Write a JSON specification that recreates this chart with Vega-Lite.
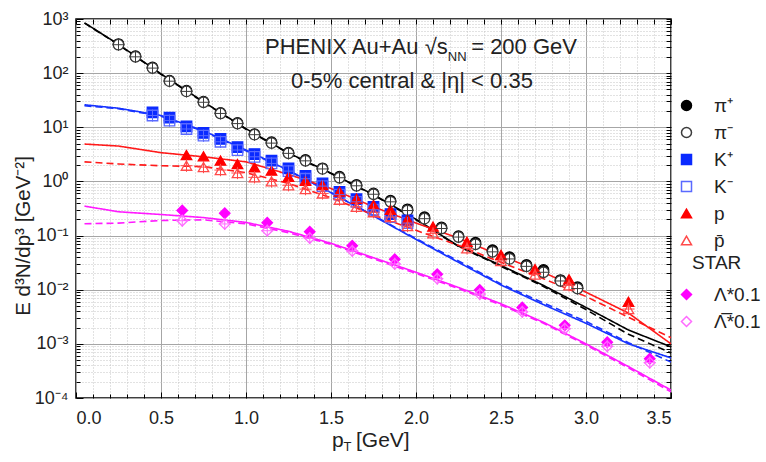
{
"$schema": "https://vega.github.io/schema/vega-lite/v6.json",
"width": 595, "height": 379,
"autosize": "none",
"padding": {"left": 76, "top": 19, "right": 95, "bottom": 64},
"background": "white",
"config": {
  "view": {"stroke": "#000", "strokeWidth": 1.5},
  "font": "Liberation Sans",
  "axis": {"labelFont": "Liberation Sans", "titleFont": "Liberation Sans", "labelColor": "#222", "titleColor": "#222", "tickColor": "#000", "domain": false, "titleFontWeight": "normal"}
},
"datasets": {
  "pts": [
    {"s":"π⁺","pt":0.25,"v":345},{"s":"π⁺","pt":0.35,"v":205},{"s":"π⁺","pt":0.45,"v":128},{"s":"π⁺","pt":0.55,"v":73},{"s":"π⁺","pt":0.65,"v":47.4},{"s":"π⁺","pt":0.75,"v":29.7},{"s":"π⁺","pt":0.85,"v":18.4},{"s":"π⁺","pt":0.95,"v":12},{"s":"π⁺","pt":1.05,"v":7.5},{"s":"π⁺","pt":1.15,"v":5.3},{"s":"π⁺","pt":1.25,"v":3.4},{"s":"π⁺","pt":1.35,"v":2.49},{"s":"π⁺","pt":1.45,"v":1.75},{"s":"π⁺","pt":1.55,"v":1.22},{"s":"π⁺","pt":1.65,"v":0.86},{"s":"π⁺","pt":1.75,"v":0.6},{"s":"π⁺","pt":1.85,"v":0.44},{"s":"π⁺","pt":1.95,"v":0.306},{"s":"π⁺","pt":2.05,"v":0.218},{"s":"π⁺","pt":2.15,"v":0.142},{"s":"π⁺","pt":2.25,"v":0.098},{"s":"π⁺","pt":2.35,"v":0.074},{"s":"π⁺","pt":2.45,"v":0.054},{"s":"π⁺","pt":2.55,"v":0.04},{"s":"π⁺","pt":2.65,"v":0.0286},{"s":"π⁺","pt":2.75,"v":0.0232},{"s":"π⁺","pt":2.85,"v":0.0151},{"s":"π⁺","pt":2.95,"v":0.0111},
    {"s":"π⁻","pt":0.25,"v":335},{"s":"π⁻","pt":0.35,"v":200},{"s":"π⁻","pt":0.45,"v":124},{"s":"π⁻","pt":0.55,"v":71},{"s":"π⁻","pt":0.65,"v":46},{"s":"π⁻","pt":0.75,"v":29},{"s":"π⁻","pt":0.85,"v":18},{"s":"π⁻","pt":0.95,"v":11.7},{"s":"π⁻","pt":1.05,"v":7.3},{"s":"π⁻","pt":1.15,"v":5.1},{"s":"π⁻","pt":1.25,"v":3.3},{"s":"π⁻","pt":1.35,"v":2.4},{"s":"π⁻","pt":1.45,"v":1.7},{"s":"π⁻","pt":1.55,"v":1.17},{"s":"π⁻","pt":1.65,"v":0.83},{"s":"π⁻","pt":1.75,"v":0.58},{"s":"π⁻","pt":1.85,"v":0.42},{"s":"π⁻","pt":1.95,"v":0.29},{"s":"π⁻","pt":2.05,"v":0.205},{"s":"π⁻","pt":2.15,"v":0.135},{"s":"π⁻","pt":2.25,"v":0.094},{"s":"π⁻","pt":2.35,"v":0.069},{"s":"π⁻","pt":2.45,"v":0.05},{"s":"π⁻","pt":2.55,"v":0.037},{"s":"π⁻","pt":2.65,"v":0.027},{"s":"π⁻","pt":2.75,"v":0.021},{"s":"π⁻","pt":2.85,"v":0.0145},{"s":"π⁻","pt":2.95,"v":0.0105},
    {"s":"K⁺","pt":0.45,"v":18.9},{"s":"K⁺","pt":0.55,"v":15.1},{"s":"K⁺","pt":0.65,"v":10.4},{"s":"K⁺","pt":0.75,"v":7.85},{"s":"K⁺","pt":0.85,"v":6.1},{"s":"K⁺","pt":0.95,"v":4.3},{"s":"K⁺","pt":1.05,"v":3.2},{"s":"K⁺","pt":1.15,"v":2.42},{"s":"K⁺","pt":1.25,"v":1.75},{"s":"K⁺","pt":1.35,"v":1.26},{"s":"K⁺","pt":1.45,"v":0.92},{"s":"K⁺","pt":1.55,"v":0.64},{"s":"K⁺","pt":1.65,"v":0.47},{"s":"K⁺","pt":1.75,"v":0.34},{"s":"K⁺","pt":1.85,"v":0.25},{"s":"K⁺","pt":1.95,"v":0.19},
    {"s":"K⁻","pt":0.45,"v":16.5},{"s":"K⁻","pt":0.55,"v":13.3},{"s":"K⁻","pt":0.65,"v":9.3},{"s":"K⁻","pt":0.75,"v":7.0},{"s":"K⁻","pt":0.85,"v":5.4},{"s":"K⁻","pt":0.95,"v":3.8},{"s":"K⁻","pt":1.05,"v":2.85},{"s":"K⁻","pt":1.15,"v":2.15},{"s":"K⁻","pt":1.25,"v":1.55},{"s":"K⁻","pt":1.35,"v":1.12},{"s":"K⁻","pt":1.45,"v":0.82},{"s":"K⁻","pt":1.55,"v":0.57},{"s":"K⁻","pt":1.65,"v":0.42},{"s":"K⁻","pt":1.75,"v":0.3},{"s":"K⁻","pt":1.85,"v":0.22},{"s":"K⁻","pt":1.95,"v":0.17},
    {"s":"p","pt":0.65,"v":3.08},{"s":"p","pt":0.75,"v":2.91},{"s":"p","pt":0.85,"v":2.42},{"s":"p","pt":0.95,"v":2.1},{"s":"p","pt":1.05,"v":1.82},{"s":"p","pt":1.15,"v":1.58},{"s":"p","pt":1.25,"v":1.22},{"s":"p","pt":1.35,"v":1.03},{"s":"p","pt":1.45,"v":0.86},{"s":"p","pt":1.55,"v":0.65},{"s":"p","pt":1.65,"v":0.48},{"s":"p","pt":1.75,"v":0.37},{"s":"p","pt":1.85,"v":0.3},{"s":"p","pt":1.95,"v":0.2},{"s":"p","pt":2.1,"v":0.146},{"s":"p","pt":2.3,"v":0.077},{"s":"p","pt":2.5,"v":0.044},{"s":"p","pt":2.7,"v":0.024},{"s":"p","pt":2.9,"v":0.0156},{"s":"p","pt":3.25,"v":0.006},
    {"s":"p̄","pt":0.65,"v":1.95},{"s":"p̄","pt":0.75,"v":1.84},{"s":"p̄","pt":0.85,"v":1.62},{"s":"p̄","pt":0.95,"v":1.43},{"s":"p̄","pt":1.05,"v":1.19},{"s":"p̄","pt":1.15,"v":1.0},{"s":"p̄","pt":1.25,"v":0.85},{"s":"p̄","pt":1.35,"v":0.72},{"s":"p̄","pt":1.45,"v":0.6},{"s":"p̄","pt":1.55,"v":0.46},{"s":"p̄","pt":1.65,"v":0.34},{"s":"p̄","pt":1.75,"v":0.27},{"s":"p̄","pt":1.85,"v":0.22},{"s":"p̄","pt":1.95,"v":0.15},{"s":"p̄","pt":2.1,"v":0.11},{"s":"p̄","pt":2.3,"v":0.058},{"s":"p̄","pt":2.5,"v":0.034},{"s":"p̄","pt":2.7,"v":0.019},{"s":"p̄","pt":2.9,"v":0.012},{"s":"p̄","pt":3.25,"v":0.0044},
    {"s":"Λ*0.1","pt":0.625,"v":0.29},{"s":"Λ*0.1","pt":0.875,"v":0.258},{"s":"Λ*0.1","pt":1.125,"v":0.173},{"s":"Λ*0.1","pt":1.375,"v":0.118},{"s":"Λ*0.1","pt":1.625,"v":0.065},{"s":"Λ*0.1","pt":1.875,"v":0.0365},{"s":"Λ*0.1","pt":2.125,"v":0.0193},{"s":"Λ*0.1","pt":2.375,"v":0.0099},{"s":"Λ*0.1","pt":2.625,"v":0.0047},{"s":"Λ*0.1","pt":2.875,"v":0.0022},{"s":"Λ*0.1","pt":3.125,"v":0.00107},{"s":"Λ*0.1","pt":3.375,"v":0.00053},
    {"s":"Λ̅*0.1","pt":0.625,"v":0.188},{"s":"Λ̅*0.1","pt":0.875,"v":0.164},{"s":"Λ̅*0.1","pt":1.125,"v":0.123},{"s":"Λ̅*0.1","pt":1.375,"v":0.09},{"s":"Λ̅*0.1","pt":1.625,"v":0.052},{"s":"Λ̅*0.1","pt":1.875,"v":0.03},{"s":"Λ̅*0.1","pt":2.125,"v":0.016},{"s":"Λ̅*0.1","pt":2.375,"v":0.0083},{"s":"Λ̅*0.1","pt":2.625,"v":0.0039},{"s":"Λ̅*0.1","pt":2.875,"v":0.0019},{"s":"Λ̅*0.1","pt":3.125,"v":0.0009},{"s":"Λ̅*0.1","pt":3.375,"v":0.00045}
  ],
  "curves": [
    {"sp":"pi","k":"solid","pt":0.05,"v":850},{"sp":"pi","k":"solid","pt":0.25,"v":340},{"sp":"pi","k":"solid","pt":0.5,"v":97},{"sp":"pi","k":"solid","pt":0.75,"v":29.5},{"sp":"pi","k":"solid","pt":1.0,"v":9.4},{"sp":"pi","k":"solid","pt":1.25,"v":3.35},{"sp":"pi","k":"solid","pt":1.5,"v":1.42},{"sp":"pi","k":"solid","pt":1.75,"v":0.57},{"sp":"pi","k":"solid","pt":2.0,"v":0.2},{"sp":"pi","k":"solid","pt":2.25,"v":0.064},{"sp":"pi","k":"solid","pt":2.5,"v":0.028},{"sp":"pi","k":"solid","pt":2.75,"v":0.012},{"sp":"pi","k":"solid","pt":3.0,"v":0.0047},{"sp":"pi","k":"solid","pt":3.25,"v":0.0018},{"sp":"pi","k":"solid","pt":3.5,"v":0.00088},
    {"sp":"pi","k":"dashed","pt":0.05,"v":840},{"sp":"pi","k":"dashed","pt":0.25,"v":335},{"sp":"pi","k":"dashed","pt":0.5,"v":95},{"sp":"pi","k":"dashed","pt":0.75,"v":29},{"sp":"pi","k":"dashed","pt":1.0,"v":9.2},{"sp":"pi","k":"dashed","pt":1.25,"v":3.3},{"sp":"pi","k":"dashed","pt":1.5,"v":1.4},{"sp":"pi","k":"dashed","pt":1.75,"v":0.56},{"sp":"pi","k":"dashed","pt":2.0,"v":0.196},{"sp":"pi","k":"dashed","pt":2.25,"v":0.063},{"sp":"pi","k":"dashed","pt":2.5,"v":0.027},{"sp":"pi","k":"dashed","pt":2.75,"v":0.0115},{"sp":"pi","k":"dashed","pt":3.0,"v":0.0043},{"sp":"pi","k":"dashed","pt":3.25,"v":0.0015},{"sp":"pi","k":"dashed","pt":3.5,"v":0.00068},
    {"sp":"K","k":"solid","pt":0.05,"v":26},{"sp":"K","k":"solid","pt":0.25,"v":22.5},{"sp":"K","k":"solid","pt":0.5,"v":16.5},{"sp":"K","k":"solid","pt":0.75,"v":8.6},{"sp":"K","k":"solid","pt":1.0,"v":3.8},{"sp":"K","k":"solid","pt":1.25,"v":1.6},{"sp":"K","k":"solid","pt":1.5,"v":0.62},{"sp":"K","k":"solid","pt":1.75,"v":0.23},{"sp":"K","k":"solid","pt":2.0,"v":0.085},{"sp":"K","k":"solid","pt":2.25,"v":0.032},{"sp":"K","k":"solid","pt":2.5,"v":0.0122},{"sp":"K","k":"solid","pt":2.75,"v":0.0053},{"sp":"K","k":"solid","pt":3.0,"v":0.0024},{"sp":"K","k":"solid","pt":3.25,"v":0.001},{"sp":"K","k":"solid","pt":3.5,"v":0.00055},
    {"sp":"K","k":"dashed","pt":0.05,"v":25},{"sp":"K","k":"dashed","pt":0.25,"v":22},{"sp":"K","k":"dashed","pt":0.5,"v":16},{"sp":"K","k":"dashed","pt":0.75,"v":8.4},{"sp":"K","k":"dashed","pt":1.0,"v":3.7},{"sp":"K","k":"dashed","pt":1.25,"v":1.58},{"sp":"K","k":"dashed","pt":1.5,"v":0.62},{"sp":"K","k":"dashed","pt":1.75,"v":0.235},{"sp":"K","k":"dashed","pt":2.0,"v":0.088},{"sp":"K","k":"dashed","pt":2.25,"v":0.034},{"sp":"K","k":"dashed","pt":2.5,"v":0.0128},{"sp":"K","k":"dashed","pt":2.75,"v":0.0057},{"sp":"K","k":"dashed","pt":3.0,"v":0.0026},{"sp":"K","k":"dashed","pt":3.25,"v":0.00105},{"sp":"K","k":"dashed","pt":3.5,"v":0.00046},
    {"sp":"p","k":"solid","pt":0.05,"v":4.9},{"sp":"p","k":"solid","pt":0.25,"v":4.5},{"sp":"p","k":"solid","pt":0.5,"v":3.4},{"sp":"p","k":"solid","pt":0.75,"v":2.85},{"sp":"p","k":"solid","pt":1.0,"v":2.3},{"sp":"p","k":"solid","pt":1.25,"v":1.35},{"sp":"p","k":"solid","pt":1.5,"v":0.74},{"sp":"p","k":"solid","pt":1.75,"v":0.34},{"sp":"p","k":"solid","pt":2.0,"v":0.17},{"sp":"p","k":"solid","pt":2.25,"v":0.09},{"sp":"p","k":"solid","pt":2.5,"v":0.042},{"sp":"p","k":"solid","pt":2.75,"v":0.021},{"sp":"p","k":"solid","pt":3.0,"v":0.009},{"sp":"p","k":"solid","pt":3.25,"v":0.0037},{"sp":"p","k":"solid","pt":3.5,"v":0.001},
    {"sp":"p","k":"dashed","pt":0.05,"v":2.3},{"sp":"p","k":"dashed","pt":0.25,"v":2.1},{"sp":"p","k":"dashed","pt":0.5,"v":1.95},{"sp":"p","k":"dashed","pt":0.75,"v":1.88},{"sp":"p","k":"dashed","pt":1.0,"v":1.45},{"sp":"p","k":"dashed","pt":1.25,"v":0.92},{"sp":"p","k":"dashed","pt":1.5,"v":0.5},{"sp":"p","k":"dashed","pt":1.75,"v":0.24},{"sp":"p","k":"dashed","pt":2.0,"v":0.125},{"sp":"p","k":"dashed","pt":2.25,"v":0.066},{"sp":"p","k":"dashed","pt":2.5,"v":0.032},{"sp":"p","k":"dashed","pt":2.75,"v":0.016},{"sp":"p","k":"dashed","pt":3.0,"v":0.0075},{"sp":"p","k":"dashed","pt":3.25,"v":0.0031},{"sp":"p","k":"dashed","pt":3.5,"v":0.0013},
    {"sp":"L","k":"solid","pt":0.05,"v":0.35},{"sp":"L","k":"solid","pt":0.25,"v":0.275},{"sp":"L","k":"solid","pt":0.5,"v":0.245},{"sp":"L","k":"solid","pt":0.75,"v":0.215},{"sp":"L","k":"solid","pt":1.0,"v":0.175},{"sp":"L","k":"solid","pt":1.25,"v":0.12},{"sp":"L","k":"solid","pt":1.5,"v":0.072},{"sp":"L","k":"solid","pt":1.75,"v":0.039},{"sp":"L","k":"solid","pt":2.0,"v":0.021},{"sp":"L","k":"solid","pt":2.25,"v":0.011},{"sp":"L","k":"solid","pt":2.5,"v":0.0055},{"sp":"L","k":"solid","pt":2.75,"v":0.0025},{"sp":"L","k":"solid","pt":3.0,"v":0.001},{"sp":"L","k":"solid","pt":3.25,"v":0.00038},{"sp":"L","k":"solid","pt":3.5,"v":0.00014},
    {"sp":"L","k":"dashed","pt":0.05,"v":0.165},{"sp":"L","k":"dashed","pt":0.25,"v":0.17},{"sp":"L","k":"dashed","pt":0.5,"v":0.19},{"sp":"L","k":"dashed","pt":0.75,"v":0.195},{"sp":"L","k":"dashed","pt":1.0,"v":0.165},{"sp":"L","k":"dashed","pt":1.25,"v":0.113},{"sp":"L","k":"dashed","pt":1.5,"v":0.069},{"sp":"L","k":"dashed","pt":1.75,"v":0.037},{"sp":"L","k":"dashed","pt":2.0,"v":0.02},{"sp":"L","k":"dashed","pt":2.25,"v":0.0105},{"sp":"L","k":"dashed","pt":2.5,"v":0.0052},{"sp":"L","k":"dashed","pt":2.75,"v":0.0024},{"sp":"L","k":"dashed","pt":3.0,"v":0.00095},{"sp":"L","k":"dashed","pt":3.25,"v":0.00036},{"sp":"L","k":"dashed","pt":3.5,"v":0.00013}
  ]
},
"layer": [
  {
    "data": {"name": "curves"},
    "mark": {"type": "line", "strokeWidth": 1.6, "clip": true},
    "encoding": {
      "x": {"field": "pt", "type": "quantitative", "scale": {"domain": [0, 3.5], "nice": false, "zero": false},
        "axis": {"orient": "bottom", "values": [0, 0.5, 1, 1.5, 2, 2.5, 3, 3.5], "format": ".1f", "labelFontSize": 18, "labelPadding": 17, "tickSize": -6, "grid": true, "gridColor": "#a6a6a6", "gridWidth": 1, "title": null}},
      "y": {"field": "v", "type": "quantitative", "scale": {"type": "log", "domain": [0.0001, 1000], "nice": false},
        "axis": {"orient": "left", "values": [0.0001, 0.001, 0.01, 0.1, 1, 10, 100, 1000], "labelExpr": "'10' + ['⁻⁴','⁻³','⁻²','⁻¹','⁰','¹','²','³'][round(log(datum.value)/LN10)+4]", "labelFontSize": 18, "labelPadding": 15, "tickSize": -7, "grid": true, "gridColor": "#a6a6a6", "gridWidth": 1, "title": null}},
      "color": {"field": "sp", "type": "nominal", "scale": {"domain": ["pi", "K", "p", "L"], "range": ["#000000", "#1733ff", "#ff1a1a", "#ff1aff"]}, "legend": null},
      "strokeDash": {"field": "k", "type": "nominal", "scale": {"domain": ["solid", "dashed"], "range": [[1, 0], [7, 4]]}, "legend": null}
    }
  },
  {
    "data": {"name": "pts"},
    "mark": {"type": "point", "size": 110, "strokeWidth": 1.3, "opacity": 1},
    "encoding": {
      "x": {"field": "pt", "type": "quantitative",
        "axis": {"orient": "bottom", "values": [0.1,0.2,0.3,0.4,0.6,0.7,0.8,0.9,1.1,1.2,1.3,1.4,1.6,1.7,1.8,1.9,2.1,2.2,2.3,2.4,2.6,2.7,2.8,2.9,3.1,3.2,3.3,3.4], "labels": false, "tickSize": -4, "grid": true, "gridColor": "#c4c4c4", "gridDash": [1, 2], "gridWidth": 1, "title": null}},
      "y": {"field": "v", "type": "quantitative",
        "axis": {"orient": "left", "values": [0.0002,0.0003,0.0004,0.0005,0.0006,0.0007,0.0008,0.0009,0.002,0.003,0.004,0.005,0.006,0.007,0.008,0.009,0.02,0.03,0.04,0.05,0.06,0.07,0.08,0.09,0.2,0.3,0.4,0.5,0.6,0.7,0.8,0.9,2,3,4,5,6,7,8,9,20,30,40,50,60,70,80,90,200,300,400,500,600,700,800,900], "labels": false, "tickSize": -4, "grid": true, "gridColor": "#c4c4c4", "gridDash": [1, 2], "gridWidth": 1, "title": null}},
      "shape": {"field": "s", "type": "nominal",
        "scale": {"domain": ["π⁺","π⁻","K⁺","K⁻","p","p̄","STAR","Λ*0.1","Λ̅*0.1"], "range": ["circle","circle","square","square","triangle-up","triangle-up","M0,0","diamond","diamond"]},
        "legend": {"orient": "none", "legendX": 601, "legendY": 77, "title": null, "labelFontSize": 19, "labelFont": "Liberation Sans", "labelColor": "#222", "symbolSize": 100, "symbolStrokeWidth": 1.5, "rowPadding": 7, "labelOffset": 18, "labelExpr": "datum.label == 'STAR' ? '' : datum.label"}},
      "stroke": {"field": "s", "type": "nominal",
        "scale": {"domain": ["π⁺","π⁻","K⁺","K⁻","p","p̄","STAR","Λ*0.1","Λ̅*0.1"], "range": ["#000000","#3c3c3c","#0a2aff","#5a6aff","#ff0000","#ff4a4a","transparent","#ff00ff","#ff6aff"]},
        "legend": {"orient": "none", "legendX": 601, "legendY": 77, "title": null, "labelFontSize": 19, "labelFont": "Liberation Sans", "labelColor": "#222", "symbolSize": 100, "symbolStrokeWidth": 1.5, "rowPadding": 7, "labelOffset": 18, "labelExpr": "datum.label == 'STAR' ? '' : datum.label"}},
      "fill": {"field": "s", "type": "nominal",
        "scale": {"domain": ["π⁺","π⁻","K⁺","K⁻","p","p̄","STAR","Λ*0.1","Λ̅*0.1"], "range": ["#000000","#ffffff","#0a2aff","transparent","#ff0000","transparent","transparent","#ff00ff","transparent"]},
        "legend": {"orient": "none", "legendX": 601, "legendY": 77, "title": null, "labelFontSize": 19, "labelFont": "Liberation Sans", "labelColor": "#222", "symbolSize": 100, "symbolStrokeWidth": 1.5, "rowPadding": 7, "labelOffset": 18, "labelExpr": "datum.label == 'STAR' ? '' : datum.label"}}
    }
  },
  {
    "data": {"name": "pts"},
    "transform": [{"filter": "indexof(['π⁻','K⁻','p̄','Λ̅*0.1'], datum.s) >= 0"}],
    "mark": {"type": "point", "shape": "M-1,0L1,0M0,-1L0,1", "size": 150, "strokeWidth": 1, "opacity": 1, "filled": false},
    "encoding": {
      "x": {"field": "pt", "type": "quantitative",
        "axis": {"orient": "top", "values": [0,0.1,0.2,0.3,0.4,0.5,0.6,0.7,0.8,0.9,1,1.1,1.2,1.3,1.4,1.5,1.6,1.7,1.8,1.9,2,2.1,2.2,2.3,2.4,2.5,2.6,2.7,2.8,2.9,3,3.1,3.2,3.3,3.4,3.5], "labels": false, "tickSize": -5, "grid": false, "title": null}},
      "y": {"field": "v", "type": "quantitative",
        "axis": {"orient": "right", "values": [0.0001,0.0002,0.0003,0.0004,0.0005,0.0006,0.0007,0.0008,0.0009,0.001,0.002,0.003,0.004,0.005,0.006,0.007,0.008,0.009,0.01,0.02,0.03,0.04,0.05,0.06,0.07,0.08,0.09,0.1,0.2,0.3,0.4,0.5,0.6,0.7,0.8,0.9,1,2,3,4,5,6,7,8,9,10,20,30,40,50,60,70,80,90,100,200,300,400,500,600,700,800,900,1000], "labels": false, "tickSize": -5, "grid": false, "title": null}},
      "stroke": {"field": "s", "type": "nominal", "legend": null}
    }
  },
  {
    "data": {"values": [{}]},
    "mark": {"type": "text", "align": "left", "baseline": "alphabetic", "fontSize": 22, "font": "Liberation Sans", "color": "#222"},
    "encoding": {"x": {"datum": 1.112, "type": "quantitative", "axis": null}, "y": {"datum": 226, "type": "quantitative", "axis": null}, "text": {"value": "PHENIX Au+Au √s"}}
  },
  {
    "data": {"values": [{}]},
    "mark": {"type": "text", "align": "left", "baseline": "alphabetic", "fontSize": 13, "font": "Liberation Sans", "color": "#222"},
    "encoding": {"x": {"datum": 2.187, "type": "quantitative", "axis": null}, "y": {"datum": 167.7, "type": "quantitative", "axis": null}, "text": {"value": "NN"}}
  },
  {
    "data": {"values": [{}]},
    "mark": {"type": "text", "align": "right", "baseline": "alphabetic", "fontSize": 22, "font": "Liberation Sans", "color": "#222"},
    "encoding": {"x": {"datum": 2.947, "type": "quantitative", "axis": null}, "y": {"datum": 226, "type": "quantitative", "axis": null}, "text": {"value": "= 200 GeV"}}
  },
  {
    "data": {"values": [{}]},
    "mark": {"type": "text", "align": "center", "baseline": "alphabetic", "fontSize": 22, "font": "Liberation Sans", "color": "#222"},
    "encoding": {"x": {"datum": 1.976, "type": "quantitative", "axis": null}, "y": {"datum": 53.2, "type": "quantitative", "axis": null}, "text": {"value": "0-5% central & |η| < 0.35"}}
  },
  {
    "data": {"values": [{}]},
    "mark": {"type": "text", "align": "left", "baseline": "middle", "fontSize": 19, "font": "Liberation Sans", "color": "#222"},
    "encoding": {"x": {"datum": 3.624, "type": "quantitative", "axis": null}, "y": {"datum": 0.0312, "type": "quantitative", "axis": null}, "text": {"value": "STAR"}}
  },
  {
    "data": {"values": [{}]},
    "mark": {"type": "text", "align": "center", "baseline": "middle", "angle": -90, "fontSize": 20.5, "font": "Liberation Sans", "color": "#222"},
    "encoding": {"x": {"datum": -0.306, "type": "quantitative", "axis": null}, "y": {"datum": 0.0984, "type": "quantitative", "axis": null}, "text": {"value": "E d³N/dp³ [GeV⁻²]"}}
  },
  {
    "data": {"values": [{}]},
    "mark": {"type": "text", "align": "left", "baseline": "alphabetic", "fontSize": 21, "font": "Liberation Sans", "color": "#222"},
    "encoding": {"x": {"datum": 1.506, "type": "quantitative", "axis": null}, "y": {"datum": 0.00001247, "type": "quantitative", "axis": null}, "text": {"value": "p"}}
  },
  {
    "data": {"values": [{}]},
    "mark": {"type": "text", "align": "left", "baseline": "alphabetic", "fontSize": 13, "font": "Liberation Sans", "color": "#222"},
    "encoding": {"x": {"datum": 1.574, "type": "quantitative", "axis": null}, "y": {"datum": 0.0000105, "type": "quantitative", "axis": null}, "text": {"value": "T"}}
  },
  {
    "data": {"values": [{}]},
    "mark": {"type": "text", "align": "left", "baseline": "alphabetic", "fontSize": 21, "font": "Liberation Sans", "color": "#222"},
    "encoding": {"x": {"datum": 1.647, "type": "quantitative", "axis": null}, "y": {"datum": 0.00001247, "type": "quantitative", "axis": null}, "text": {"value": "[GeV]"}}
  }
],
"resolve": {"axis": {"x": "independent", "y": "independent"}}
}
